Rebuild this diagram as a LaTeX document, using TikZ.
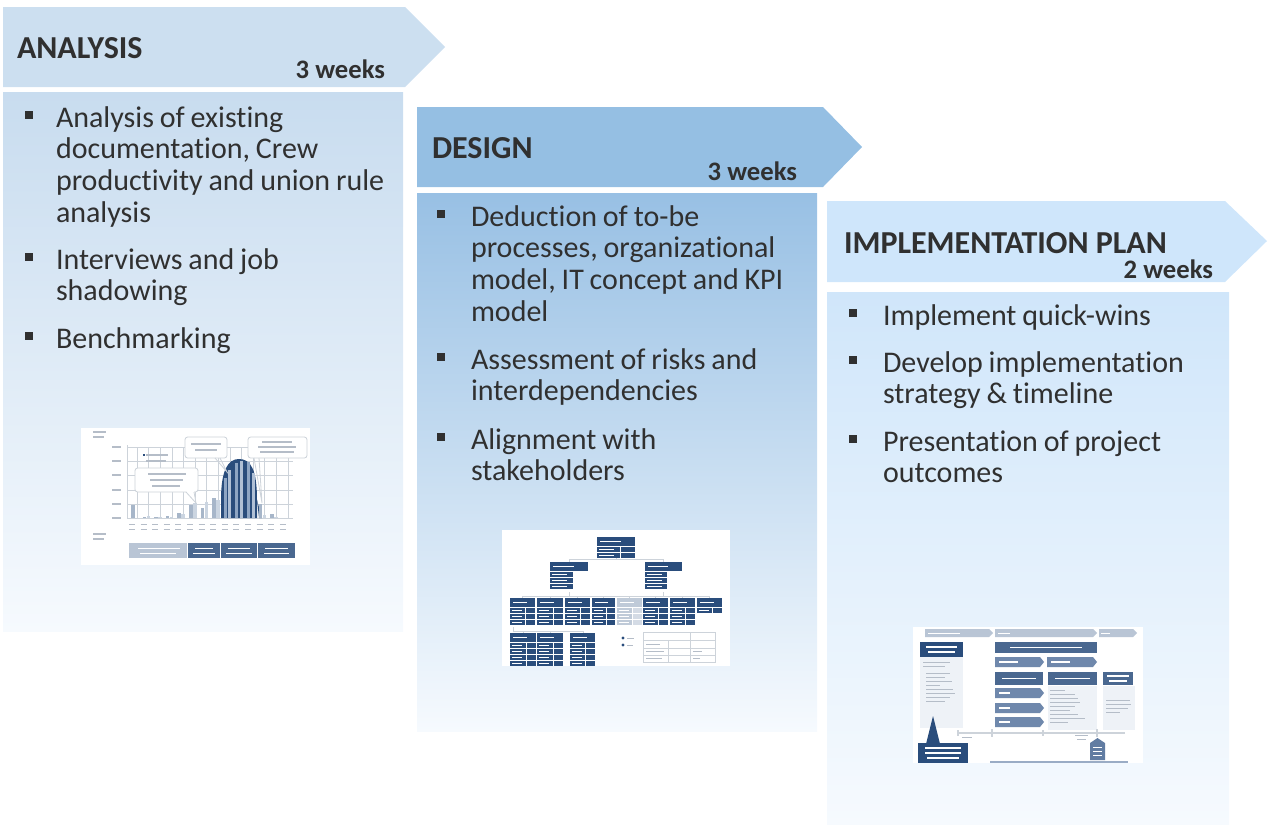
\documentclass[tikz,border=0pt]{standalone}
\usepackage{fontspec}
\setmainfont{Carlito}[Ligatures=NoCommon]
\definecolor{ink}{HTML}{303030}
\definecolor{hdrA}{HTML}{CCDFF0}
\definecolor{hdrB}{HTML}{95BFE3}
\definecolor{hdrC}{HTML}{CFE6FB}
\definecolor{bodyA}{HTML}{C8DCEF}
\definecolor{bodyB}{HTML}{98C0E4}
\definecolor{bodyC}{HTML}{D0E6FA}
\definecolor{fade}{HTML}{F6FAFE}
\definecolor{navy}{HTML}{2A4D7C}
\definecolor{midblue}{HTML}{6F88AC}
\definecolor{paleblue}{HTML}{B9C5D5}
\definecolor{stub}{HTML}{B5BDC8}
\definecolor{panel}{HTML}{EEF2F7}
\definecolor{gridc}{HTML}{CDD3DA}
\definecolor{barA}{HTML}{A7B6C9}
\definecolor{barB}{HTML}{CBD5E1}
\definecolor{barIn}{HTML}{8EA5C3}

% one organisation-chart unit: x, y, width, rows, head colour, right cell colour
\newcommand\orgunit[6]{%
  \fill[#5] (#1,#2) rectangle ++(#3,9);
  \draw[white, line width=0.7pt] ({#1+3},{#2+4.5}) -- ++({#3*0.55},0);
  \foreach \r in {1,...,#4}{
    \fill[#5] ({#1},{#2+4+6*(\r-1)+6}) rectangle ++({#3*0.6},5);
    \fill[#6] ({#1+#3*0.6+1},{#2+4+6*(\r-1)+6}) rectangle ++({#3*0.4-1},5);
    \draw[white, line width=0.5pt] ({#1+2},{#2+6.5+6*(\r-1)+6}) -- ++({#3*0.4},0);
  }%
}

\begin{document}
\begin{tikzpicture}[x=0.75pt,y=-0.75pt,
  txt/.style={text=ink, inner sep=0pt, outer sep=0pt},
  phase/.style={txt, font=\fontsize{24}{28}\selectfont\bfseries, anchor=base west},
  dur/.style={txt, font=\fontsize{20}{24}\selectfont\bfseries, anchor=base east},
  item/.style={txt, font=\fontsize{22.5}{23.8}\selectfont, anchor=base west,
    text width=300pt, execute at begin node={\spaceskip=4.4pt plus 1pt minus 1pt\relax}},
  sqb/.style={fill=ink, inner sep=0pt, outer sep=0pt, minimum size=5.6pt},
  stubline/.style={stub, line width=1pt},
  whitestub/.style={white, line width=0.8pt},
  callout/.style={draw=gridc, fill=white, line width=0.6pt, rounded corners=2pt}]

\useasboundingbox (0,0) rectangle (1270,825);

% ---------- phase bodies ----------
\shade[top color=bodyA, bottom color=fade] (3,92) rectangle (403,631);
\shade[top color=bodyB, bottom color=fade] (417,193) rectangle (817,731);
\shade[top color=bodyC, bottom color=fade] (827,292) rectangle (1229,824);

% ---------- phase headers ----------
\fill[hdrA] (3,7) -- (405,7) -- (445,47) -- (405,87) -- (3,87) -- cycle;
\fill[hdrB] (417,107) -- (823,107) -- (862,147) -- (823,187) -- (417,187) -- cycle;
\fill[hdrC] (827,201) -- (1225,201) -- (1267,241) -- (1225,282) -- (827,282) -- cycle;

\node[phase] (tA) at (17,58) {ANALYSIS};
\node[dur] (dA) at (385,78) {3 weeks};
\node[phase] (tB) at (432,158) {DESIGN};
\node[dur] (dB) at (797,180) {3 weeks};
\node[phase] (tC) at (844,253) {IMPLEMENTATION PLAN};
\node[dur] (dC) at (1213,278) {2 weeks};

% ---------- analysis items ----------
\node[sqb] (bA1) at (29,115) {};
\node[item] (iA1) at (56,127) {Analysis of existing\\documentation, Crew\\productivity and union rule\\analysis};
\node[sqb] (bA2) at (29,257) {};
\node[item] (iA2) at (56,269) {Interviews and job\\shadowing};
\node[sqb] (bA3) at (29,336) {};
\node[item] (iA3) at (56,348) {Benchmarking};

% ---------- design items ----------
\node[sqb] (bB1) at (441,214) {};
\node[item] (iB1) at (471,226) {Deduction of to-be\\processes, organizational\\model, IT concept and KPI\\model};
\node[sqb] (bB2) at (441,357) {};
\node[item] (iB2) at (471,369) {Assessment of risks and\\interdependencies};
\node[sqb] (bB3) at (441,437) {};
\node[item] (iB3) at (471,449) {Alignment with\\stakeholders};

% ---------- implementation items ----------
\node[sqb] (bC1) at (853,313) {};
\node[item] (iC1) at (883,325) {Implement quick-wins};
\node[sqb] (bC2) at (853,360) {};
\node[item] (iC2) at (883,372) {Develop implementation\\strategy \& timeline};
\node[sqb] (bC3) at (853,439) {};
\node[item] (iC3) at (883,451) {Presentation of project\\outcomes};

% ---------- thumbnail: crew distribution chart ----------
\fill[white] (81,428) rectangle (310,565);
\draw[stubline] (93,432) -- (106,432) (93,437) -- (104,437);
\foreach \y in {447,461,475,490,504,518}{
  \draw[gridc, line width=0.5pt] (127,\y) -- (293,\y);
  \draw[stubline, line width=0.8pt] (112,\y) -- (121,\y);
}
\draw[gridc, line width=0.6pt] (127,445) -- (127,518);
\foreach \i in {0,...,13}{
  \draw[gridc, line width=0.4pt] ({128+11.6*\i+9},447) -- ({128+11.6*\i+9},518);
}
% highlighted peak
\fill[navy] (221,518) -- (221,500) .. controls (221,470) and (228,459) .. (239,459)
  .. controls (251,459) and (257,470) .. (257,500) -- (257,518) -- cycle;
\fill[navy] (257,500) -- (262,518) -- (259,518) -- cycle;
\foreach \x/\a/\b in {131/13/0, 142.6/1/2, 154.2/1/1, 165.8/2/1, 177.4/5/4,
  189/13/15, 200.6/10/16, 212.2/20/18}{
  \fill[barA] (\x,518) rectangle ++(3.5,-\a);
  \fill[barB] ({\x+4},518) rectangle ++(3.5,-\b);
}
\foreach \x/\a/\b in {223.8/40/48, 235.4/55/57, 247/56/45}{
  \fill[barIn] (\x,518) rectangle ++(3,-\a);
  \fill[barIn!70!white] ({\x+4.5},518) rectangle ++(3,-\b);
}
\foreach \x/\a/\b in {258.6/14/3, 270.2/4/1}{
  \fill[barA] (\x,518) rectangle ++(3.5,-\a);
  \fill[barB] ({\x+4},518) rectangle ++(3.5,-\b);
}
\foreach \i in {0,...,13}{
  \draw[stubline, line width=0.7pt] ({129+11.6*\i},524) -- ++(6,0);
  \draw[stubline, line width=0.7pt] ({129+11.6*\i},529) -- ++(6,0);
}
% legend and call-outs
\draw[stubline, line width=0.8pt] (146,455) -- (168,455) (146,461) -- (166,461);
\fill[navy] (143,454) rectangle ++(2,2);
\draw[callout] (135,468) rectangle (198,492);
\fill[white] (186,491) -- (194,491) -- (196,503) -- cycle;
\draw[gridc, line width=0.6pt] (186,492) -- (196,503) -- (194,492);
\draw[stubline, line width=0.8pt] (148,474) -- (186,474) (150,480) -- (183,480) (152,486) -- (180,486);
\draw[callout] (185,437) rectangle (227,458);
\draw[gridc, line width=0.6pt] (215,458) -- (227,472) -- (220,458);
\draw[stubline, line width=0.8pt] (191,444) -- (221,444) (195,450) -- (217,450);
\draw[callout] (248,437) rectangle (307,458);
\draw[gridc, line width=0.6pt] (254,458) -- (262,503) -- (259,458);
\draw[stubline, line width=0.8pt] (262,442) -- (292,442) (258,447) -- (296,447) (260,452) -- (294,452);
% phase band
\draw[stubline] (93,534) -- (106,534) (93,539) -- (104,539);
\fill[paleblue] (129,543) rectangle (187,558);
\fill[navy!85] (188,543) rectangle (220,558);
\fill[navy!85] (221,543) rectangle (257,558);
\fill[navy!85] (258,543) rectangle (295,558);
\draw[white, line width=0.7pt] (138,548) -- (180,548) (140,553) -- (176,553)
  (195,548) -- (213,548) (193,553) -- (215,553) (228,548) -- (250,548) (226,553) -- (252,553)
  (265,548) -- (288,548) (264,553) -- (289,553);

% ---------- thumbnail: organisation chart ----------
\fill[white] (502,530) rectangle (730,666);
\draw[gridc, line width=0.6pt] (616,557) -- (616,559) (569,559) -- (663,559)
  (569,559) -- (569,562) (663,559) -- (663,562);
\draw[gridc, line width=0.6pt] (522,596) -- (709,596) (569,592) -- (569,596) (663,592) -- (663,596);
\foreach \x in {522,550,577,603,629,655,682,709}{\draw[gridc, line width=0.6pt] (\x,596) -- (\x,598);}
\draw[gridc, line width=0.6pt] (513,627) -- (513,631) -- (583,631) (523,631) -- (523,633) (550,631) -- (550,633) (583,631) -- (583,633);
\orgunit{597}{537}{38}{2}{navy}{navy}
\orgunit{550}{562}{38}{3}{navy}{white}
\orgunit{645}{562}{37}{3}{navy}{white}
\foreach \x/\w in {510/25, 537/26, 565/25, 592/23, 643/25, 670/25}{
  \orgunit{\x}{598}{\w}{3}{navy}{navy}
}
\orgunit{617}{598}{25}{3}{navy!30}{navy!20}
\orgunit{697}{598}{25}{1}{navy}{navy}
\foreach \x/\w in {510/26, 537/26, 570/25}{
  \orgunit{\x}{633}{\w}{4}{navy}{navy}
}
\fill[navy] (623,638) circle (1.6);
\fill[navy] (623,645) circle (1.6);
\draw[stubline, line width=0.7pt] (627,638) -- (634,638) (627,645) -- (633,645);
\draw[gridc, line width=0.5pt] (643,632) rectangle (715,662) (643,640) -- (715,640)
  (643,648) -- (715,648) (643,655) -- (715,655) (668,640) -- (668,662) (690,632) -- (690,662);
\draw[stubline, line width=0.7pt] (646,644) -- (660,644) (646,651) -- (664,651) (646,658) -- (662,658)
  (693,651) -- (702,651) (693,658) -- (700,658);

% ---------- thumbnail: implementation roadmap ----------
\fill[white] (913,627) rectangle (1143,763);
\fill[paleblue] (925,629) -- (989,629) -- (993,633) -- (989,637) -- (925,637) -- cycle;
\fill[paleblue] (995,629) -- (1093,629) -- (1097,633) -- (1093,637) -- (995,637) -- cycle;
\fill[paleblue] (1099,629) -- (1133,629) -- (1137,633) -- (1133,637) -- (1099,637) -- cycle;
\draw[white, line width=0.6pt] (928,633) -- (960,633) (998,633) -- (1010,633) (1101,633) -- (1110,633);
% left column
\fill[navy] (920,642) rectangle (963,657);
\draw[whitestub] (926,647) -- (957,647) (928,652) -- (955,652);
\fill[panel] (920,657) rectangle (963,728);
\draw[stubline, line width=0.7pt] (923,662) -- (950,662) (923,666) -- (945,666)
  (926,673) -- (950,673) (926,677) -- (945,677) (926,681) -- (952,681) (926,685) -- (940,685)
  (926,689) -- (953,689) (926,693) -- (955,693) (926,697) -- (950,697) (926,701) -- (945,701);
\fill[navy] (926,744) -- (933,716) -- (940,744) -- cycle;
\fill[navy] (918,743) rectangle (968,763);
\draw[whitestub] (925,748) -- (961,748) (925,753) -- (961,753) (927,758) -- (959,758);
% middle column
\fill[navy!85] (995,642) rectangle (1097,653);
\draw[whitestub] (1010,647.5) -- (1082,647.5);
\fill[midblue] (995,657) -- (1040,657) -- (1044,662) -- (1040,667) -- (995,667) -- cycle;
\fill[midblue] (1047,657) -- (1093,657) -- (1097,662) -- (1093,667) -- (1047,667) -- cycle;
\fill[navy!85] (995,672) rectangle (1043,685);
\fill[navy!85] (1048,672) rectangle (1097,685);
\draw[whitestub] (1002,678.5) -- (1036,678.5) (1055,678.5) -- (1090,678.5)
  (999,662) -- (1018,662) (1051,662) -- (1070,662);
\foreach \y in {688,703,717}{
  \fill[midblue] (995,\y) -- (1040,\y) -- (1044,{\y+5}) -- (1040,{\y+10}) -- (995,{\y+10}) -- cycle;
  \draw[whitestub] (999,{\y+5}) -- (1010,{\y+5});
}
\fill[panel] (1048,686) rectangle (1097,730);
\draw[stubline, line width=0.7pt] (1050,690) -- (1065,690) (1050,694) -- (1075,694) (1050,698) -- (1078,698)
  (1050,702) -- (1080,702) (1050,706) -- (1075,706) (1050,710) -- (1070,710) (1050,714) -- (1078,714)
  (1050,718) -- (1085,718) (1050,722) -- (1068,722);
% right column
\fill[navy!85] (1103,672) rectangle (1133,685);
\draw[whitestub] (1107,676) -- (1129,676) (1109,681) -- (1127,681);
\fill[panel] (1103,686) rectangle (1135,730);
\draw[stubline, line width=0.7pt] (1106,700) -- (1130,700) (1106,704) -- (1131,704) (1106,708) -- (1128,708) (1106,712) -- (1120,712);
% time line
\draw[gridc, line width=0.8pt] (958,733) -- (1125,733);
\draw[gridc, line width=0.8pt] (958,730) -- (958,736) (992,729) -- (992,737) (1043,730) -- (1043,736) (1097,729) -- (1097,737);
\draw[stubline, line width=0.6pt] (962,737) -- (972,737) (1075,735) -- (1088,735) (1077,739) -- (1086,739);
\fill[midblue!80!navy] (1090,760) -- (1090,743) -- (1097.5,738) -- (1105,743) -- (1105,760) -- cycle;
\draw[white, line width=0.5pt] (1093,747) -- (1102,747) (1093,751) -- (1102,751) (1093,755) -- (1102,755);
\fill[midblue!70] (990,761) rectangle (1128,763);
\end{tikzpicture}
\end{document}
